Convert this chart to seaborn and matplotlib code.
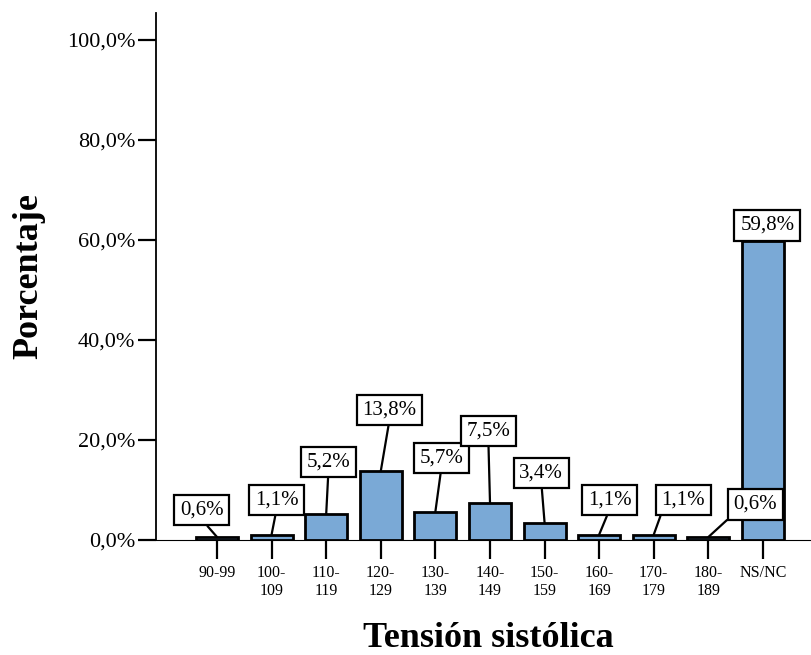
import matplotlib
matplotlib.use("Agg")
import matplotlib.pyplot as plt
import seaborn as sns
import pandas as pd

categories = ["90-99", "100-\n109", "110-\n119", "120-\n129", "130-\n139", "140-\n149",
              "150-\n159", "160-\n169", "170-\n179", "180-\n189", "NS/NC"]
percent = [0.6, 1.1, 5.2, 13.8, 5.7, 7.5, 3.4, 1.1, 1.1, 0.6, 59.8]
value_labels = ["0,6%", "1,1%", "5,2%", "13,8%", "5,7%", "7,5%", "3,4%", "1,1%", "1,1%", "0,6%", "59,8%"]
y_ticks = [0, 20, 40, 60, 80, 100]
y_tick_labels = ["0,0%", "20,0%", "40,0%", "60,0%", "80,0%", "100,0%"]

# label box placement (layout only)
label_pos = [(-0.28, 6.0), (1.09, 8.0), (2.04, 15.6), (3.16, 26.0), (4.11, 16.4), (4.97, 21.8),
             (5.94, 13.4), (7.19, 8.0), (8.54, 8.0), (9.86, 7.1), (10.08, 62.9)]
label_relpos = [(0.5, 0)] * 8 + [(0.03, 0), (0.0, 0), (0.5, 0)]

sns.set_style("ticks")
plt.rcParams["font.family"] = ["Liberation Serif", "DejaVu Serif"]
for k in ["text.color", "xtick.color", "ytick.color", "axes.labelcolor", "axes.edgecolor"]:
    plt.rcParams[k] = "black"

df = pd.DataFrame({"cat": categories, "pct": percent})

fig = plt.figure(figsize=(8.12, 6.55), dpi=100)
ax = fig.add_axes([156 / 812, 1 - 540 / 655, (812 - 156) / 812, (540 - 13) / 655])

sns.barplot(data=df, x="cat", y="pct", color="#7aa9d6", saturation=1, width=0.77,
            edgecolor="black", linewidth=2.0, ax=ax, zorder=3)

ax.set_xlim((156 - 217) / 54.6, (812 - 217) / 54.6)
ax.set_ylim(0, (540 - 13) / 5)
ax.set_yticks(y_ticks)
ax.set_yticklabels(y_tick_labels, fontsize=16)
ax.tick_params(axis="y", length=13, width=1.6, pad=2, direction="out")
ax.tick_params(axis="x", length=14, width=1.6, pad=4, direction="out", labelsize=11.5)
for lab in ax.get_xticklabels():
    lab.set_linespacing(1.15)

sns.despine(ax=ax)
ax.spines["left"].set_linewidth(1.3)
ax.spines["bottom"].set_linewidth(0.8)

ax.set_xlabel("Tensión sistólica", fontsize=26, fontweight="bold")
ax.set_ylabel("Porcentaje", fontsize=26, fontweight="bold")
ax.xaxis.set_label_coords(0.507, -0.156)
ax.yaxis.set_label_coords(-0.168, 0.5)

for i, (txt, (lx, ly), rp) in enumerate(zip(value_labels, label_pos, label_relpos)):
    ax.annotate(txt, xy=(i, percent[i]), xytext=(lx, ly), textcoords="data",
                ha="center", va="center", fontsize=15, zorder=5,
                bbox=dict(boxstyle="square,pad=0.28", fc="white", ec="black", lw=1.6),
                arrowprops=dict(arrowstyle="-", color="black", lw=1.6,
                                shrinkA=0, shrinkB=0, relpos=rp))

fig.savefig("out.png", dpi=100)
